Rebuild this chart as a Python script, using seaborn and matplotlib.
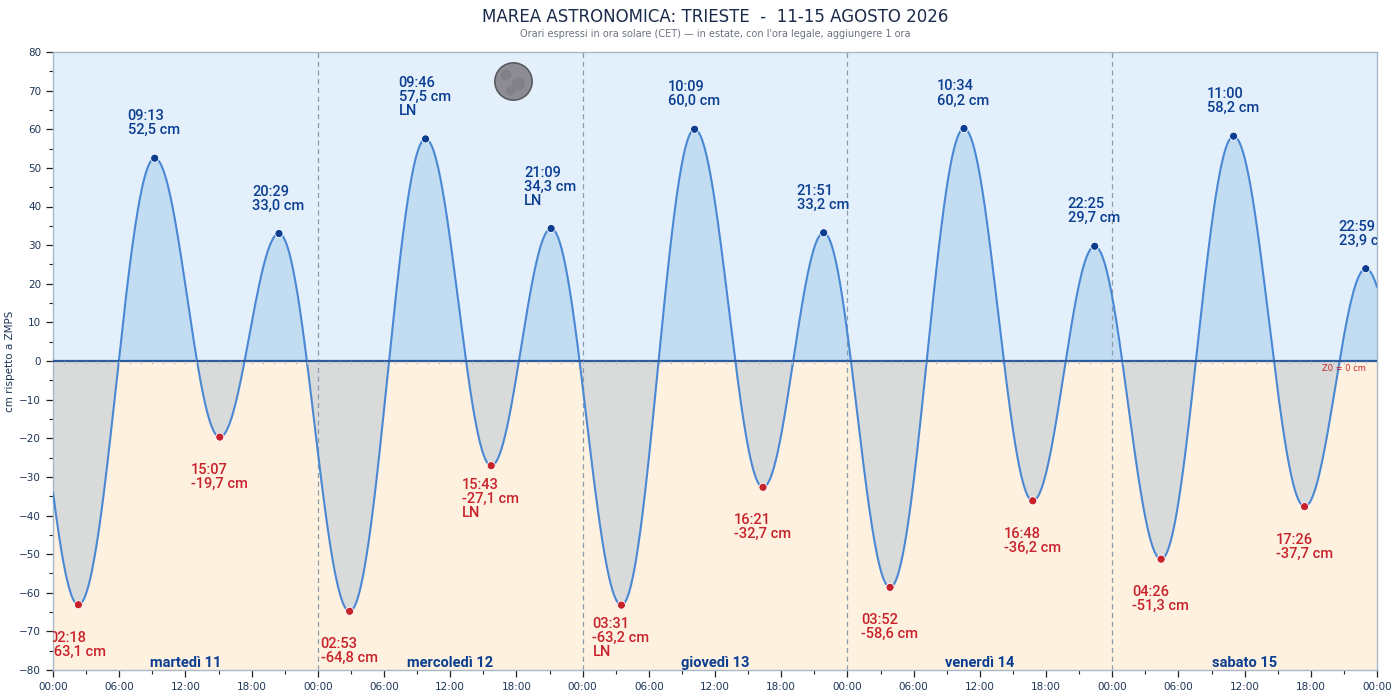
import numpy as np
import pandas as pd
import matplotlib
matplotlib.use("Agg")
import matplotlib.pyplot as plt
import matplotlib.transforms as mtransforms
import seaborn as sns

# estremi di marea (ora solare CET)
start = pd.Timestamp("2026-08-11 00:00")
ext_times = ["2026-08-11 02:18", "2026-08-11 09:13", "2026-08-11 15:07", "2026-08-11 20:29",
             "2026-08-12 02:53", "2026-08-12 09:46", "2026-08-12 15:43", "2026-08-12 21:09",
             "2026-08-13 03:31", "2026-08-13 10:09", "2026-08-13 16:21", "2026-08-13 21:51",
             "2026-08-14 03:52", "2026-08-14 10:34", "2026-08-14 16:48", "2026-08-14 22:25",
             "2026-08-15 04:26", "2026-08-15 11:00", "2026-08-15 17:26", "2026-08-15 22:59"]
ext_heights = [-63.1, 52.5, -19.7, 33.0,
               -64.8, 57.5, -27.1, 34.3,
               -63.2, 60.0, -32.7, 33.2,
               -58.6, 60.2, -36.2, 29.7,
               -51.3, 58.2, -37.7, 23.9]
ext_notes = ["", "", "", "",
             "", "LN", "LN", "LN",
             "LN", "", "", "",
             "", "", "", "",
             "", "", "", ""]
# estremi fuori finestra (stimati dall'andamento ai bordi)
edge_times = ["2026-08-10 20:24", "2026-08-16 05:00"]
edge_heights = [25.0, -45.0]

day_names = ["martedì 11", "mercoledì 12", "giovedì 13", "venerdì 14", "sabato 15"]
moon_time = "2026-08-12 17:40"
moon_height = 72.5

title = "MAREA ASTRONOMICA: TRIESTE  -  11-15 AGOSTO 2026"
subtitle = "Orari espressi in ora solare (CET) — in estate, con l'ora legale, aggiungere 1 ora"

C_HIGH = "#0b3d91"
C_LOW = "#c8232c"
C_TXT = "#1d3557"
LABEL_FONT = ["Roboto", "DejaVu Sans"]


def hours(ts):
    return (pd.to_datetime(ts) - start) / pd.Timedelta(hours=1)


ext_h = np.asarray(hours(ext_times))
ext_v = np.array(ext_heights)
knot_t = np.concatenate([[hours(edge_times[0])], ext_h, [hours(edge_times[1])]])
knot_v = np.concatenate([[edge_heights[0]], ext_v, [edge_heights[1]]])

# curva di marea: mezza onda cosinusoidale tra estremi consecutivi
t = np.linspace(0, 120, 2401)
i = np.clip(np.searchsorted(knot_t, t) - 1, 0, len(knot_t) - 2)
frac = (t - knot_t[i]) / (knot_t[i + 1] - knot_t[i])
level = knot_v[i] + (knot_v[i + 1] - knot_v[i]) * (1 - np.cos(np.pi * frac)) / 2
curve = pd.DataFrame({"ore": t, "livello": level})
pts = pd.DataFrame({"ore": ext_h, "livello": ext_v,
                    "tipo": np.where(ext_v > 0, "alta", "bassa")})

sns.set_style("white")
plt.rcParams["font.family"] = ["DejaVu Sans"]

fig = plt.figure(figsize=(14, 7), dpi=100)
ax = fig.add_axes([53 / 1400, 30 / 700, 1324 / 1400, 618 / 700])

ax.axhspan(0, 80, color="#e3f0fb", zorder=0)
ax.axhspan(-80, 0, color="#fef1df", zorder=0)
ax.fill_between(t, 0, level, where=level >= 0, interpolate=True, color="#c2dcf2", lw=0, zorder=1)
ax.fill_between(t, 0, level, where=level <= 0, interpolate=True, color="#d9dada", lw=0, zorder=1)

for d in range(1, 5):
    ax.axvline(24 * d, color="#8a9aaa", lw=0.9, ls=(0, (4, 3)), zorder=2)

sns.lineplot(data=curve, x="ore", y="livello", ax=ax, color="#4a88d4", lw=1.5, zorder=3)
ax.axhline(0, color="#2f5c9e", lw=1.6, zorder=4)
ax.vlines(np.arange(1, 120), -0.8, 0, color="#b4c4d4", lw=0.7, zorder=4)

sns.scatterplot(data=pts, x="ore", y="livello", hue="tipo", palette={"alta": C_HIGH, "bassa": C_LOW},
                s=34, edgecolor="white", linewidth=0.6, ax=ax, legend=False, zorder=5)

# etichette degli estremi (tagliate al bordo del grafico come nell'originale)
for tm, hh, vv, note in zip(ext_times, ext_h, ext_v, ext_notes):
    lines = [tm[-5:], f"{vv:.1f}".replace(".", ",") + " cm"]
    if note:
        lines.append(note)
    if vv > 0:
        tr = mtransforms.offset_copy(ax.transData, fig=fig, x=-27, y=21, units="dots")
        ax.text(hh, vv, "\n".join(lines), transform=tr, ha="left", va="bottom", color=C_HIGH,
                fontsize=10.5, fontweight="medium", family=LABEL_FONT, linespacing=1.0,
                clip_on=True, zorder=6)
    else:
        dy = -12 if note else -26
        tr = mtransforms.offset_copy(ax.transData, fig=fig, x=-29, y=dy, units="dots")
        ax.text(hh, vv, "\n".join(lines), transform=tr, ha="left", va="top", color=C_LOW,
                fontsize=10.5, fontweight="medium", family=LABEL_FONT, linespacing=1.0,
                clip_on=True, zorder=6)

for d, name in enumerate(day_names):
    ax.text(24 * d + 12, -79.2, name, ha="center", va="baseline", color=C_HIGH,
            fontsize=10.5, fontweight="bold", family=LABEL_FONT, zorder=6)

ax.text(119, -0.9, "Z0 = 0 cm", ha="right", va="top", color=C_LOW, fontsize=6, zorder=6)

# luna nuova
mx = hours(moon_time)
ax.scatter([mx], [moon_height], s=720, color="#8c8c92", edgecolor="#5a5a60", linewidth=1.2, zorder=6)
ax.scatter([mx - 0.6, mx + 0.5, mx - 0.2], [moon_height + 1.6, moon_height - 0.8, moon_height - 2.6],
           s=[60, 90, 40], color="#808086", lw=0, zorder=7)

ax.set_xlim(0, 120)
ax.set_ylim(-80, 80)
ax.set_xticks(np.arange(0, 121, 6))
ax.set_xticklabels([f"{int(h % 24):02d}:00" for h in np.arange(0, 121, 6)])
ax.set_xticks(np.arange(0, 121, 3), minor=True)
ax.set_yticks(np.arange(-80, 81, 10))
ax.set_yticks(np.arange(-80, 81, 5), minor=True)
ax.tick_params(which="major", length=5, width=0.9, color="#222222", labelsize=7.5,
               labelcolor=C_TXT, direction="out", bottom=True, left=True)
ax.tick_params(which="minor", length=3, width=0.8, color="#222222", direction="out",
               bottom=True, left=True)
ax.set_xlabel("")
ax.set_ylabel("cm rispetto a ZMPS", fontsize=7.5, color=C_TXT, labelpad=3)
for s in ax.spines.values():
    s.set_color("#a8b8c8")
    s.set_linewidth(1)

fig.text(0.511, 0.975, title, ha="center", va="center", fontsize=12, color="#1a2a4a")
fig.text(0.511, 0.952, subtitle, ha="center", va="center", fontsize=7, color="#6b7280")

fig.savefig("out.png", dpi=100)
